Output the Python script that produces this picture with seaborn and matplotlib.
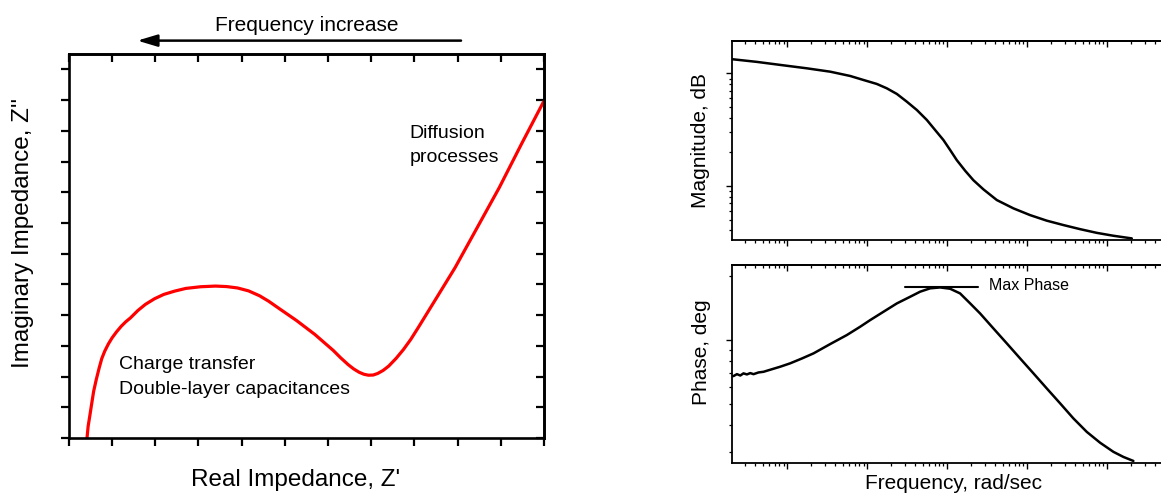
import matplotlib
matplotlib.use("Agg")
import matplotlib.pyplot as plt
import pandas as pd
import seaborn as sns

# Nyquist plot (arbitrary units)
nyq_real = [0.418, 0.444, 0.487, 0.529, 0.572, 0.632, 0.700, 0.760, 0.828, 0.914, 0.999,
            1.102, 1.213, 1.315, 1.426, 1.597, 1.768, 1.981, 2.195, 2.451, 2.707, 3.049,
            3.390, 3.650, 3.903, 4.159, 4.415, 4.628, 4.842, 5.269, 5.696, 6.123, 6.294,
            6.465, 6.593, 6.721, 6.832, 6.934, 7.045, 7.148, 7.276, 7.404, 7.575, 7.746,
            7.916, 8.087, 8.514, 8.941, 9.454, 9.966, 10.478, 10.991]
nyq_imag = [0.00, 0.38, 0.761, 1.141, 1.522, 1.902, 2.283, 2.587, 2.826, 3.065, 3.261,
            3.457, 3.641, 3.783, 3.913, 4.152, 4.348, 4.533, 4.674, 4.783, 4.870, 4.924,
            4.946, 4.930, 4.885, 4.790, 4.630, 4.450, 4.240, 3.826, 3.370, 2.848, 2.609,
            2.390, 2.250, 2.140, 2.075, 2.045, 2.050, 2.100, 2.200, 2.340, 2.590, 2.880,
            3.210, 3.590, 4.565, 5.543, 6.848, 8.152, 9.565, 10.946]

# Bode magnitude
mag_freq = [0.204, 0.418, 0.818, 1.76, 3.45, 6.13, 8.99, 13.2, 17.6, 23.5, 31.3, 41.8,
            55.7, 70.8, 89.9, 109, 132, 168, 213, 284, 418, 675, 1090, 1762, 2843, 4597,
            7430, 12000, 20370]
mag_db = [13.37, 12.65, 11.89, 11.09, 10.35, 9.48, 8.73, 8.05, 7.36, 6.56, 5.60, 4.72,
          3.85, 3.13, 2.55, 2.08, 1.69, 1.36, 1.12, 0.929, 0.746, 0.629, 0.548, 0.489,
          0.447, 0.411, 0.381, 0.359, 0.340]

# Bode phase
phase_freq = [0.209, 0.213, 0.235, 0.259, 0.284, 0.313, 0.345, 0.379, 0.438, 0.506, 0.557,
              0.818, 1.09, 1.53, 2.13, 3.45, 5.57, 8.17, 10.9, 16.0, 23.5, 34.5, 46.0, 61.3,
              81.7, 109, 145, 194, 258, 379, 557, 818, 1200, 1762, 2585, 3793, 5572, 8175,
              12000, 16000, 21330]
phase_deg = [0.678, 0.678, 0.692, 0.682, 0.698, 0.690, 0.700, 0.692, 0.705, 0.710, 0.718,
             0.750, 0.778, 0.820, 0.866, 0.958, 1.056, 1.155, 1.241, 1.358, 1.486, 1.597,
             1.687, 1.749, 1.766, 1.741, 1.656, 1.486, 1.334, 1.134, 0.965, 0.820, 0.698,
             0.593, 0.505, 0.429, 0.371, 0.330, 0.299, 0.283, 0.271]
max_phase_span = [30, 245]
max_phase_level = 1.77

nyq = pd.DataFrame({"real": nyq_real, "imag": nyq_imag})
mag = pd.DataFrame({"freq": mag_freq, "mag": mag_db})
phase = pd.DataFrame({"freq": phase_freq, "phase": phase_deg})

sns.set_style("ticks", rc={"axes.edgecolor": "black", "axes.labelcolor": "black",
                           "text.color": "black", "xtick.color": "black",
                           "ytick.color": "black"})
plt.rcParams["font.family"] = ["Liberation Sans", "DejaVu Sans"]

fig = plt.figure(figsize=(11.61, 4.96), dpi=100)
ax = fig.add_axes([0.0594, 0.1169, 0.4091, 0.7742])
ax_mag = fig.add_axes([0.6305, 0.5161, 0.3816, 0.4012])
ax_ph = fig.add_axes([0.6305, 0.0665, 0.3816, 0.3992])

# --- Nyquist ---
sns.lineplot(data=nyq, x="real", y="imag", ax=ax, color="#ff0000", lw=2.3, sort=False)
ax.set_xlim(0, 11)
ax.set_ylim(0, 12.5)
ax.set_xticks(range(12))
ax.set_yticks(range(13))
ax.tick_params(direction="out", length=5.5, width=1.6, labelbottom=False, labelleft=False)
for s in ax.spines.values():
    s.set_linewidth(1.9)
top = ax.secondary_xaxis("top")
top.set_xticks(range(12))
top.tick_params(direction="in", length=5.5, width=1.6, labeltop=False)
right = ax.secondary_yaxis("right")
right.set_yticks(range(13))
right.tick_params(direction="in", length=5.5, width=1.6, labelright=False)
for sec in (top, right):
    for s in sec.spines.values():
        s.set_linewidth(1.9)

ax.set_xlabel("Real Impedance, Z'", fontsize=17.5, va="center")
ax.xaxis.set_label_coords(0.477, -0.109)
ax.set_ylabel("Imaginary Impedance, Z''", fontsize=17.5, va="center")
ax.yaxis.set_label_coords(-0.097, 0.534)

ax.text(7.89, 9.9, "Diffusion", fontsize=14, va="center")
ax.text(7.89, 9.12, "processes", fontsize=14, va="center")
ax.text(1.17, 2.40, "Charge transfer", fontsize=14, va="center")
ax.text(1.17, 1.59, "Double-layer capacitances", fontsize=14, va="center")

fig.text(0.264, 0.949, "Frequency increase", fontsize=15, ha="center", va="center")
ax.annotate("", xy=(0.1183, 0.9181), xytext=(0.3971, 0.9181),
            xycoords="figure fraction", textcoords="figure fraction",
            arrowprops=dict(arrowstyle="-|>,head_length=1.2,head_width=0.36",
                            mutation_scale=10, lw=1.8, color="black",
                            shrinkA=0, shrinkB=0))

# --- Bode plots ---
sns.lineplot(data=mag, x="freq", y="mag", ax=ax_mag, color="black", lw=1.8)
sns.lineplot(data=phase, x="freq", y="phase", ax=ax_ph, color="black", lw=1.8)
ax_ph.plot(max_phase_span, [max_phase_level] * 2, color="black", lw=1.5)
ax_ph.text(335, 1.81, "Max Phase", fontsize=11.5, va="center")

limits = {ax_mag: (0.329, 19.4), ax_ph: (0.265, 2.25)}
for a, (lo, hi) in limits.items():
    a.set_xscale("log")
    a.set_yscale("log")
    a.set_xlim(0.204, 70795)
    a.set_ylim(lo, hi)
    a.tick_params(which="both", labelbottom=False, labelleft=False)
    a.tick_params(which="major", direction="out", length=4, width=1.0)
    a.tick_params(which="minor", direction="out", length=2, width=0.9)
    for s in a.spines.values():
        s.set_linewidth(1.3)
    sec = a.secondary_xaxis("top")
    sec.tick_params(which="both", labeltop=False)
    sec.tick_params(which="major", direction="in", length=4, width=1.0)
    sec.tick_params(which="minor", direction="in", length=2, width=0.9)
    for s in sec.spines.values():
        s.set_linewidth(1.3)
    a.set_xlabel("")

ax_mag.set_ylabel("Magnitude, dB", fontsize=15, va="center")
ax_mag.yaxis.set_label_coords(-0.072, 0.498)
ax_ph.set_ylabel("Phase, deg", fontsize=15, va="center")
ax_ph.yaxis.set_label_coords(-0.068, 0.558)
ax_ph.set_xlabel("Frequency, rad/sec", fontsize=15, va="center")
ax_ph.xaxis.set_label_coords(0.499, -0.101)

fig.savefig("out.png", dpi=100)
